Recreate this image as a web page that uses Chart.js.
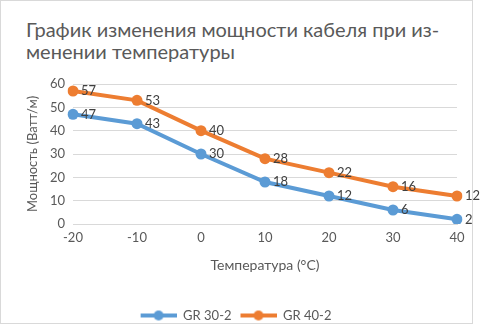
<!DOCTYPE html>
<html>
<head>
<meta charset="utf-8">
<script src="https://cdn.jsdelivr.net/npm/chart.js@4"></script>
<style>
  html, body { margin: 0; padding: 0; background: #fff; }
  #wrap { position: relative; width: 480px; height: 327px; }
  #frame { position: absolute; left: 0; top: 0; width: 473px; height: 324px; border: 1px solid #d9d9d9; box-sizing: border-box; }
  #title { position: absolute; left: 26px; top: 18px; font-family: Lato, "Open Sans", sans-serif; font-size: 20px; line-height: 22px; color: #595959; }
  canvas { position: absolute; left: 0; top: 0; }
</style>
</head>
<body>
<div id="wrap">
  <div id="frame"></div>
  <div id="title">График изменения мощности кабеля при из-<br>менении температуры</div>
  <canvas id="chart" width="480" height="327"></canvas>
</div>
<script>
// Данные графика
const temperatures = ['-20', '-10', '0', '10', '20', '30', '40'];
const gr30 = [47, 43, 30, 18, 12, 6, 2];
const gr40 = [57, 53, 40, 28, 22, 16, 12];
const seriesNames = ['GR 30-2', 'GR 40-2'];
const yTicks = [0, 10, 20, 30, 40, 50, 60];

const colors = ['#5b9bd5', '#ed7d31'];
const textColor = '#595959';
const fontFamily = 'Lato, "Open Sans", sans-serif';

// Значок легенды: линия с точкой (слева 6px пустого места как отступ)
const legendMarker = (color) => {
    const c = document.createElement('canvas');
    c.width = 42;
    c.height = 12;
    const g = c.getContext('2d');
    g.strokeStyle = color;
    g.lineWidth = 4;
    g.beginPath();
    g.moveTo(6, 6);
    g.lineTo(42, 6);
    g.stroke();
    g.fillStyle = color;
    g.beginPath();
    g.arc(24, 6, 5, 0, Math.PI * 2);
    g.fill();
    return c;
};

// Подписи значений справа от точек
const valueLabels = {
    id: 'valueLabels',
    afterDatasetsDraw(chart) {
        const ctx = chart.ctx;
        ctx.save();
        ctx.fillStyle = '#404040';
        ctx.font = '13px ' + fontFamily;
        ctx.textAlign = 'left';
        ctx.textBaseline = 'middle';
        chart.data.datasets.forEach((ds, i) => {
            chart.getDatasetMeta(i).data.forEach((pt, j) => {
                ctx.fillText(ds.data[j], pt.x + 8, pt.y);
            });
        });
        ctx.restore();
    }
};

// Сдвиг легенды чуть влево, как в оригинале
const shiftLegend = {
    id: 'shiftLegend',
    afterLayout(chart) {
        chart.legend.left -= 8;
        chart.legend.right -= 8;
    }
};

const makeDataset = (i, values) => ({
    label: seriesNames[i],
    data: values,
    borderColor: colors[i],
    backgroundColor: colors[i],
    borderWidth: 4,
    pointRadius: 5.5,
    pointBorderWidth: 0,
    pointStyle: 'circle',
    tension: 0
});

new Chart(document.getElementById('chart').getContext('2d'), {
    type: 'line',
    data: {
        labels: temperatures,
        datasets: [makeDataset(0, gr30), makeDataset(1, gr40)]
    },
    options: {
        responsive: false,
        animation: false,
        layout: { padding: { top: 84, left: 25, right: 23, bottom: -5 } },
        plugins: {
            title: { display: false },
            tooltip: { enabled: false },
            legend: {
                position: 'bottom',
                labels: {
                    color: textColor,
                    font: { family: fontFamily, size: 13 },
                    usePointStyle: true,
                    pointStyleWidth: 42,
                    padding: 3,
                    generateLabels(chart) {
                        return chart.data.datasets.map((ds, i) => ({
                            text: ds.label,
                            fontColor: textColor,
                            pointStyle: legendMarker(colors[i]),
                            datasetIndex: i,
                            hidden: false,
                            lineWidth: 0
                        }));
                    }
                }
            }
        },
        scales: {
            x: {
                type: 'category',
                offset: false,
                grid: { display: false, drawTicks: false },
                border: { color: '#d9d9d9', width: 1 },
                ticks: { color: textColor, font: { family: fontFamily, size: 13 }, padding: 6, maxRotation: 0 },
                title: { display: true, text: 'Температура (°C)', color: textColor, font: { family: fontFamily, size: 14 }, padding: { top: 10, bottom: 32 } },
                afterFit(scale) { scale.height = 82; }
            },
            y: {
                min: 0,
                max: 60,
                afterBuildTicks(scale) { scale.ticks = yTicks.map(v => ({ value: v })); },
                grid: { color: '#d9d9d9', drawTicks: false },
                border: { display: false },
                ticks: { color: textColor, font: { family: fontFamily, size: 13 }, padding: 8 },
                title: { display: true, text: 'Мощность (Ватт/м)', color: textColor, font: { family: fontFamily, size: 13 }, padding: 0 },
                afterFit(scale) { scale.width = 48; }
            }
        }
    },
    plugins: [valueLabels, shiftLegend]
});
</script>
</body>
</html>
